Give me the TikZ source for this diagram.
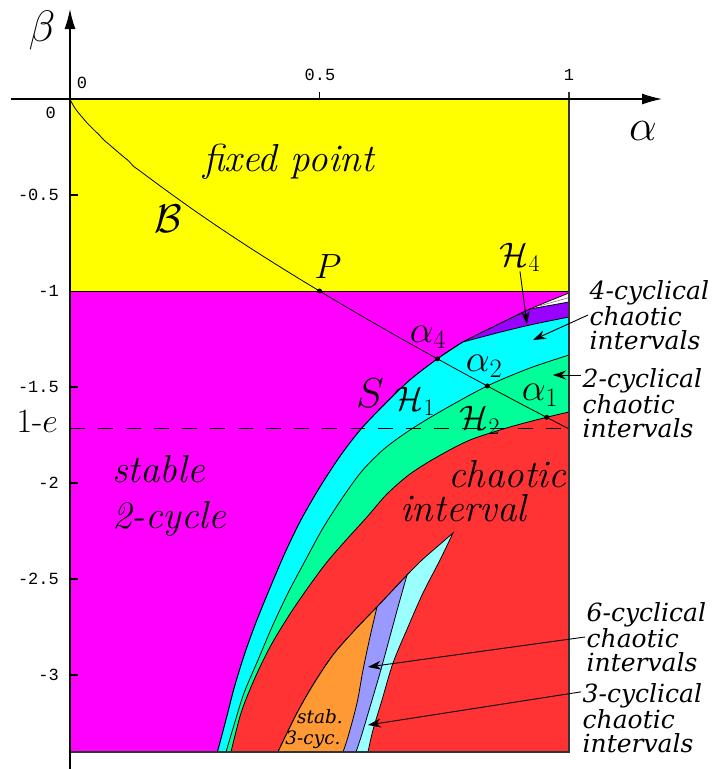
\RequirePackage{fix-cm}
\documentclass[tikz,border=0pt]{standalone}
\usepackage{amsmath, amssymb}
\usepackage{fontspec}
\usepackage{xcolor}
\usetikzlibrary{arrows.meta}
\newfontfamily\slabfont{DejaVu Serif}
\newfontfamily\tickfont{Liberation Mono}
\definecolor{fpyellow}{RGB}{255,255,0}
\definecolor{cycmagenta}{RGB}{255,0,255}
\definecolor{fourviolet}{RGB}{153,0,255}
\definecolor{twocyan}{RGB}{0,255,255}
\definecolor{onegreen}{RGB}{0,255,153}
\definecolor{chaosred}{RGB}{255,51,51}
\definecolor{stabOrange}{RGB}{255,153,51}
\definecolor{sixlav}{RGB}{153,153,255}
\definecolor{threecyan}{RGB}{153,255,255}
\tikzset{
  band/.style={draw=black, line width=0.8pt},
  frame/.style={draw=black!80, line width=1.6pt},
  axis/.style={line width=1.3pt},
  ptr/.style={-{Stealth[length=13pt,width=9pt]}, line width=0.9pt},
  dot/.style={circle, fill=black, inner sep=0pt, minimum size=5pt},
  ticklabel/.style={font=\tickfont\fontsize{17}{17}\selectfont, inner sep=0pt},
  regionlabel/.style={font=\fontsize{39}{46}\selectfont\itshape, inner sep=0pt},
  note/.style={font=\slabfont\itshape\fontsize{25}{24}\selectfont, align=left, inner sep=1.5pt},
  sym/.style={inner sep=0pt, font=\fontsize{36}{36}\selectfont},
}

\begin{document}
\begin{tikzpicture}[x=499pt,y=192pt]
  \useasboundingbox (-0.14028,-3.48958) rectangle (1.30060,0.515625);
  \filldraw[band,fill=fpyellow] (0,0) rectangle (1,-1);
  \filldraw[band,fill=cycmagenta] (0,-1) rectangle (1,-3.401);
  \filldraw[band,fill=white] plot[smooth] coordinates {(0.29559,-3.40104) (0.31263,-3.23438) (0.32966,-3.0625) (0.3507,-2.88542) (0.37475,-2.71354) (0.4018,-2.54167) (0.43086,-2.36458) (0.46293,-2.19271) (0.501,-2.02083) (0.54309,-1.85417) (0.58517,-1.71354) (0.63727,-1.57292) (0.68136,-1.46354) (0.7365,-1.3532) (0.78758,-1.26563) (0.85571,-1.17708) (0.92184,-1.09375) (1,-1.01042)} -- (1,-3.401) -- cycle;
  \filldraw[band,fill=fourviolet] plot[smooth] coordinates {(0.29559,-3.40104) (0.31263,-3.23438) (0.32966,-3.0625) (0.3507,-2.88542) (0.37475,-2.71354) (0.4018,-2.54167) (0.43086,-2.36458) (0.46293,-2.19271) (0.501,-2.02083) (0.54309,-1.85417) (0.58517,-1.71354) (0.63727,-1.57292) (0.68136,-1.46354) (0.7365,-1.3532) (0.78758,-1.26563) (0.85571,-1.17708) (0.92184,-1.09375)} -- plot[smooth] coordinates {(0.92184,-1.09375) (0.9609,-1.0755) (1,-1.0573)} -- (1,-3.401) -- cycle;
  \draw[gray, line width=0.6pt] (0.9418,-1.077) -- (1,-1.034);
  \filldraw[band,fill=twocyan] plot[smooth] coordinates {(0.29559,-3.40104) (0.31263,-3.23438) (0.32966,-3.0625) (0.3507,-2.88542) (0.37475,-2.71354) (0.4018,-2.54167) (0.43086,-2.36458) (0.46293,-2.19271) (0.501,-2.02083) (0.54309,-1.85417) (0.58517,-1.71354) (0.63727,-1.57292) (0.68136,-1.46354) (0.7365,-1.3532) (0.78758,-1.26563)} -- plot[smooth] coordinates {(0.78758,-1.26563) (0.8557,-1.2188) (0.9218,-1.1771) (1,-1.1354)} -- (1,-3.401) -- cycle;
  \filldraw[band,fill=onegreen] plot[smooth] coordinates {(0.31263,-3.40104) (0.32866,-3.26042) (0.3487,-3.09375) (0.37675,-2.92188) (0.40481,-2.75) (0.43687,-2.57292) (0.47094,-2.40625) (0.50701,-2.23438) (0.54709,-2.07292) (0.58517,-1.9375) (0.62926,-1.82292) (0.68136,-1.72396) (0.74749,-1.61979) (0.8363,-1.4944) (0.92184,-1.40104) (1,-1.33333)} -- (1,-3.401) -- cycle;
  \filldraw[band,fill=chaosred] plot[smooth] coordinates {(0.32265,-3.40104) (0.34269,-3.19792) (0.36874,-3.02604) (0.4008,-2.85417) (0.43687,-2.69792) (0.47495,-2.55208) (0.51503,-2.41146) (0.55511,-2.29167) (0.59519,-2.17708) (0.63527,-2.05729) (0.68136,-1.95313) (0.73547,-1.86458) (0.8016,-1.77604) (0.88176,-1.70833) (0.9553,-1.6577) (1,-1.63021)} -- (1,-3.401) -- cycle;
  \filldraw[band,fill=threecyan] plot[smooth] coordinates {(0.4168,-3.401) (0.4529,-3.2083) (0.4870,-3.0521) (0.5271,-2.8958) (0.5711,-2.7656) (0.6152,-2.6458) (0.6473,-2.5573) (0.6754,-2.4792) (0.7054,-2.4010) (0.7375,-2.3281) (0.7675,-2.2604)} -- plot[smooth] coordinates {(0.7675,-2.2604) (0.7415,-2.4010) (0.7074,-2.5729) (0.6774,-2.75) (0.6473,-2.9375) (0.6253,-3.1302) (0.6072,-3.2865) (0.5972,-3.401)} -- cycle;
  \filldraw[band,fill=sixlav] plot[smooth] coordinates {(0.4168,-3.401) (0.4529,-3.2083) (0.4870,-3.0521) (0.5271,-2.8958) (0.5711,-2.7656) (0.6152,-2.6458) (0.6473,-2.5573) (0.6754,-2.4792)} -- plot[smooth] coordinates {(0.6754,-2.4792) (0.6573,-2.6458) (0.6393,-2.8177) (0.6212,-2.9896) (0.6012,-3.1667) (0.5832,-3.3229) (0.5731,-3.401)} -- cycle;
  \filldraw[band,fill=stabOrange] plot[smooth] coordinates {(0.4168,-3.401) (0.4529,-3.2083) (0.4870,-3.0521) (0.5271,-2.8958) (0.5711,-2.7656) (0.6152,-2.6458)} -- plot[smooth] coordinates {(0.6152,-2.6458) (0.6012,-2.8021) (0.5872,-2.9740) (0.5752,-3.1458) (0.5571,-3.3229) (0.5471,-3.401)} -- cycle;
  \draw[line width=1pt, dash pattern=on 15pt off 13pt] (0,-1.71828) -- (1,-1.71828);
  \draw[band] (0,0) -- plot[domain=0.0005:1, samples=120, smooth] (\x,{-1.71828*pow(\x,0.781)});
  \node[dot] (P) at (0.5,-1) {};
  \node[dot] (a4) at (0.7365,-1.3532) {};
  \node[dot] (a2) at (0.8363,-1.4944) {};
  \node[dot] (a1) at (0.9553,-1.6577) {};
  \draw[frame] (0,-3.401) -- (1,-3.401) -- (1,0.0365);
  \draw[axis, -{Latex[length=20pt,width=11pt]}] (0,-3.4896) -- (0,0.46875);
  \draw[axis, -{Latex[length=20pt,width=11pt]}] (-0.1182,0) -- (1.1864,0);
  \draw[axis] (0.5,0) -- (0.5,0.0365);
  \foreach \b in {-0.5,-1.5,-2,-2.5,-3}
    \draw[axis] (0,\b) -- (0.016,\b);
  \node[ticklabel] (ta0) at (0.024,0.0833) {0};
  \node[ticklabel] (ta1) at (0.501,0.125) {0.5};
  \node[ticklabel] (ta2) at (1,0.125) {1};
  \node[ticklabel, anchor=east] (tb0) at (-0.028,-0.073) {0};
  \foreach \b [count=\i] in {-0.5,-1,-1.5,-2,-2.5,-3}
    \node[ticklabel, anchor=east] (tb\i) at (-0.022,\b) {\b};
  \node[sym, font=\fontsize{44}{44}\selectfont] (ylab) at (-0.0561,0.3542) {$\beta$};
  \node[sym, font=\fontsize{44}{44}\selectfont] (xlab) at (1.1483,-0.1667) {$\alpha$};
  \node[sym, font=\fontsize{34}{34}\selectfont, anchor=east] (onee) at (-0.024,-1.6797) {1-$e$};
  \node[regionlabel, anchor=base west] (fixed) at (0.2665,-0.380) {fixed point};
  \node[regionlabel, anchor=base west] (stable) at (0.0842,-1.9948) {stable};
  \node[regionlabel, anchor=base west] (twocyc) at (0.0842,-2.2344) {2-cycle};
  \node[regionlabel, anchor=base west] (chaotic) at (0.7575,-2.026) {chaotic};
  \node[regionlabel, anchor=base west] (interval) at (0.6613,-2.203) {interval};
  \node[sym, font=\fontsize{40}{40}\selectfont] (Bl) at (0.1964,-0.625) {$\mathcal{B}$};
  \node[sym, font=\fontsize{35}{35}\selectfont] (Pl) at (0.517,-0.875) {$P$};
  \node[sym, font=\fontsize{34}{34}\selectfont] (H4l) at (0.9018,-0.8229) {$\mathcal{H}_4$};
  \node[sym, font=\fontsize{38}{38}\selectfont] (a4l) at (0.7174,-1.2396) {$\alpha_4$};
  \node[sym, font=\fontsize{38}{38}\selectfont] (a2l) at (0.8297,-1.3906) {$\alpha_2$};
  \node[sym, font=\fontsize{38}{38}\selectfont] (a1l) at (0.9419,-1.5417) {$\alpha_1$};
  \node[sym, font=\fontsize{42}{42}\selectfont] (Sl) at (0.6012,-1.5313) {$S$};
  \node[sym, font=\fontsize{34}{34}\selectfont] (H1l) at (0.6914,-1.5729) {$\mathcal{H}_1$};
  \node[sym, font=\fontsize{34}{34}\selectfont] (H2l) at (0.8216,-1.6719) {$\mathcal{H}_2$};
  \node[sym, font=\slabfont\itshape\fontsize{18.5}{18.5}\selectfont] (stab) at (0.5010,-3.2188) {stab.};
  \node[sym, font=\slabfont\itshape\fontsize{18.5}{18.5}\selectfont] (cyc3s) at (0.487,-3.3385) {3-cyc.};
  \node[note, anchor=west] (cyc4) at (1.0381,-1.125) {4-cyclical\\chaotic\\intervals};
  \node[note, anchor=west] (cyc2) at (1.0241,-1.5833) {2-cyclical\\chaotic\\intervals};
  \node[note, anchor=west] (cyc6) at (1.0321,-2.8021) {6-cyclical\\chaotic\\intervals};
  \node[note, anchor=west] (cyc3) at (1.0241,-3.224) {3-cyclical\\chaotic\\intervals};
  \coordinate (tH4) at (0.9158,-1.1719);
  \coordinate (t4) at (0.9279,-1.2552);
  \coordinate (t2) at (0.9679,-1.4375);
  \coordinate (t6) at (0.5972,-2.9583);
  \coordinate (t3) at (0.5972,-3.2604);
  \draw[ptr] (H4l.south) -- (tH4);
  \draw[ptr] (cyc4.west) -- (t4);
  \draw[ptr] (t2 -| cyc2.west) -- (t2);
  \draw[ptr] (cyc6.west) -- (t6);
  \draw[ptr] ([yshift=-10pt]cyc3.north west) -- (t3);
\end{tikzpicture}
\end{document}
